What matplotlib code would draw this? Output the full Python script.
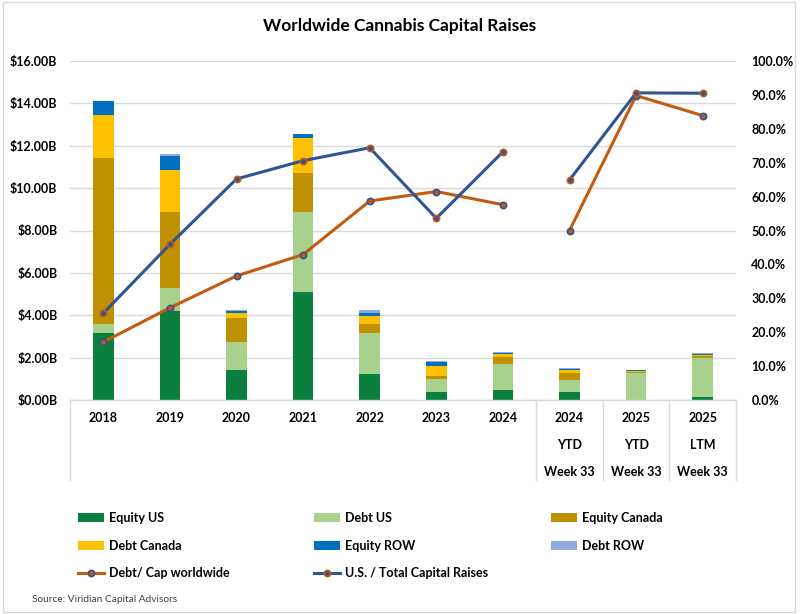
import matplotlib
matplotlib.use("Agg")
import matplotlib.pyplot as plt
import numpy as np
from matplotlib.patches import Patch, Rectangle
from matplotlib.lines import Line2D
from matplotlib.ticker import FuncFormatter

plt.rcParams['font.family'] = ['Lato', 'DejaVu Sans']

# ---- data ----
cat_year = ['2018', '2019', '2020', '2021', '2022', '2023', '2024', '2024', '2025', '2025']
cat_mid = ['', '', '', '', '', '', '', 'YTD', 'YTD', 'LTM']
cat_low = ['', '', '', '', '', '', '', 'Week 33', 'Week 33', 'Week 33']

equity_us = [3.18, 4.22, 1.40, 5.10, 1.23, 0.36, 0.49, 0.36, 0.00, 0.16]
debt_us = [0.43, 1.07, 1.32, 3.77, 1.95, 0.62, 1.20, 0.60, 1.29, 1.81]
equity_canada = [7.81, 3.56, 1.15, 1.85, 0.39, 0.15, 0.34, 0.30, 0.05, 0.11]
debt_canada = [2.01, 2.02, 0.24, 1.66, 0.38, 0.49, 0.13, 0.14, 0.03, 0.06]
equity_row = [0.68, 0.66, 0.11, 0.16, 0.16, 0.16, 0.08, 0.08, 0.03, 0.03]
debt_row = [0.00, 0.09, 0.02, 0.03, 0.16, 0.06, 0.03, 0.03, 0.02, 0.03]

debt_cap_pct = [17.1, 27.2, 36.6, 42.9, 58.7, 61.5, 57.6, 50.0, 89.8, 83.9]
us_share_pct = [25.6, 45.9, 65.2, 70.6, 74.4, 53.6, 73.2, 64.9, 90.6, 90.5]

series = [
    ('Equity US', equity_us, '#0B7F3E'),
    ('Debt US', debt_us, '#A9D18E'),
    ('Equity Canada', equity_canada, '#BF9000'),
    ('Debt Canada', debt_canada, '#FFC000'),
    ('Equity ROW', equity_row, '#0070C0'),
    ('Debt ROW', debt_row, '#8FAADC'),
]
ORANGE = '#C55A11'
BLUE = '#2F5597'
GRID = '#D9D9D9'

fig = plt.figure(figsize=(8, 6.14), dpi=100)
ax = fig.add_axes([70/800, 1-400/614, 666/800, 339/614])
x = np.arange(len(cat_year))

bottom = np.zeros(len(x))
handles = {}
for name, vals, col in series:
    v = np.array(vals)
    ax.bar(x, v, width=0.31, bottom=bottom, color=col, zorder=2, linewidth=0)
    bottom += v
    handles[name] = Patch(facecolor=col, edgecolor='none')

ax.set_xlim(-0.5, len(x) - 0.5)
ax.set_ylim(0, 16)
ax.set_yticks(np.arange(0, 16.01, 2))
ax.yaxis.set_major_formatter(FuncFormatter(lambda v, p: f'${v:.2f}B'))
ax.grid(axis='y', color=GRID, linewidth=1, zorder=0)
ax.set_axisbelow(True)
for s in ['top', 'right', 'left']:
    ax.spines[s].set_visible(False)
ax.spines['bottom'].set_color(GRID)
ax.spines['bottom'].set_linewidth(1)
ax.tick_params(axis='y', length=0, pad=9, labelsize=9)
for lab in ax.get_yticklabels():
    lab.set_fontweight('bold')
ax.set_xticks([])

# multi-level category labels
tr = ax.get_xaxis_transform()
for i in x:
    ax.text(i, -0.053, cat_year[i], transform=tr, ha='center', va='center',
            fontsize=9, fontweight='bold')
    if cat_mid[i]:
        ax.text(i, -0.133, cat_mid[i], transform=tr, ha='center', va='center',
                fontsize=9, fontweight='bold')
    if cat_low[i]:
        ax.text(i, -0.212, cat_low[i], transform=tr, ha='center', va='center',
                fontsize=9, fontweight='bold')
for xv in [-0.5, 6.5, 7.5, 8.5, 9.5]:
    ax.plot([xv, xv], [0, -0.236], transform=tr, color=GRID, lw=1,
            clip_on=False, zorder=1)

# secondary axis with lines
ax2 = ax.twinx()
ax2.set_ylim(0, 100)
ax2.set_yticks(np.arange(0, 100.1, 10))
ax2.yaxis.set_major_formatter(FuncFormatter(lambda v, p: f'{v:.1f}%'))
for s in ['top', 'right', 'left', 'bottom']:
    ax2.spines[s].set_visible(False)
ax2.tick_params(axis='y', length=0, pad=11, labelsize=9)
for lab in ax2.get_yticklabels():
    lab.set_fontweight('bold')

dc = np.array(debt_cap_pct)
us = np.array(us_share_pct)
for seg in [slice(0, 7), slice(7, 10)]:
    ax2.plot(x[seg], us[seg], color=BLUE, lw=2.2, marker='o', ms=4.5,
             mfc=BLUE, mec=ORANGE, mew=1.2, zorder=4)
    ax2.plot(x[seg], dc[seg], color=ORANGE, lw=2.2, marker='o', ms=4.5,
             mfc=ORANGE, mec=BLUE, mew=1.2, zorder=3)

# legend (three columns placed manually)
h_dc = Line2D([], [], color=ORANGE, lw=2.2, marker='o', ms=4.5, mfc=ORANGE, mec=BLUE, mew=1.2)
h_us = Line2D([], [], color=BLUE, lw=2.2, marker='o', ms=4.5, mfc=BLUE, mec=ORANGE, mew=1.2)
cols = [
    ([handles['Equity US'], handles['Debt Canada'], h_dc],
     ['Equity US', 'Debt Canada', 'Debt/ Cap worldwide'], 78),
    ([handles['Debt US'], handles['Equity ROW'], h_us],
     ['Debt US', 'Equity ROW', 'U.S. / Total Capital Raises'], 314),
    ([handles['Equity Canada'], handles['Debt ROW']],
     ['Equity Canada', 'Debt ROW'], 551),
]
for hs, ls, xp in cols:
    lg = fig.legend(hs, ls, loc='upper left', bbox_to_anchor=(xp/800, 1-512/614),
                    frameon=False, fontsize=9, handlelength=2.1, handletextpad=0.4,
                    labelspacing=1.25, borderpad=0, borderaxespad=0)
    for t in lg.get_texts():
        t.set_fontweight('bold')

fig.text(0.5, 1-26/614, 'Worldwide Cannabis Capital Raises', ha='center', va='center',
         fontsize=12.5, fontweight='bold')
fig.text(32/800, 1-600/614, 'Source: Viridian Capital Advisors', ha='left', va='center',
         fontsize=7.3, color='#404040')

fig.patches.append(Rectangle((3/800, 2/614), 792/800, 610/614, transform=fig.transFigure,
                             fill=False, edgecolor=GRID, lw=1))

fig.savefig('out.png', dpi=100)
